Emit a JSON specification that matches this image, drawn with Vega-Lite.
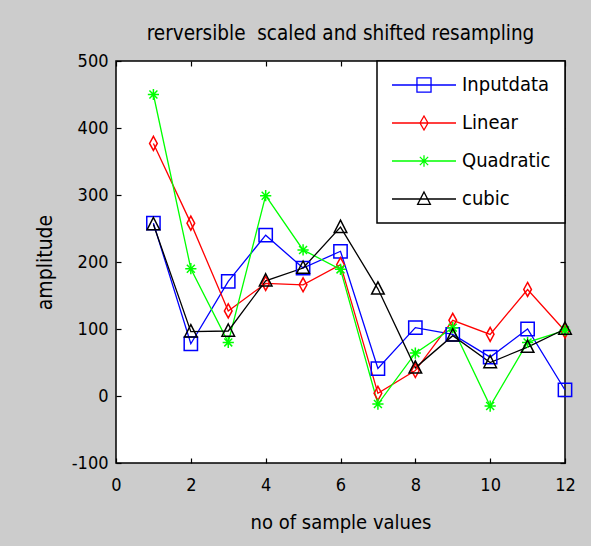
{
  "$schema": "https://vega.github.io/schema/vega-lite/v6.json",
  "width": 449,
  "height": 402,
  "autosize": {"type": "none"},
  "padding": {"left": 116, "top": 61, "right": 26, "bottom": 83},
  "background": "#cccccc",
  "title": {
    "text": "rerversible\u00a0 scaled and shifted resampling",
    "font": "DejaVu Sans Condensed, Liberation Sans Narrow, sans-serif",
    "fontSize": 20.5,
    "fontWeight": "normal",
    "color": "#000000",
    "anchor": "middle",
    "offset": 8
  },
  "data": {
    "values": [
      {"x": 1, "series": "Inputdata", "y": 258},
      {"x": 2, "series": "Inputdata", "y": 78},
      {"x": 3, "series": "Inputdata", "y": 171},
      {"x": 4, "series": "Inputdata", "y": 240},
      {"x": 5, "series": "Inputdata", "y": 191},
      {"x": 6, "series": "Inputdata", "y": 216},
      {"x": 7, "series": "Inputdata", "y": 41},
      {"x": 8, "series": "Inputdata", "y": 102},
      {"x": 9, "series": "Inputdata", "y": 92},
      {"x": 10, "series": "Inputdata", "y": 58},
      {"x": 11, "series": "Inputdata", "y": 100},
      {"x": 12, "series": "Inputdata", "y": 9},
      {"x": 1, "series": "Linear", "y": 377},
      {"x": 2, "series": "Linear", "y": 258},
      {"x": 3, "series": "Linear", "y": 127},
      {"x": 4, "series": "Linear", "y": 168},
      {"x": 5, "series": "Linear", "y": 166},
      {"x": 6, "series": "Linear", "y": 196},
      {"x": 7, "series": "Linear", "y": 4},
      {"x": 8, "series": "Linear", "y": 38},
      {"x": 9, "series": "Linear", "y": 113},
      {"x": 10, "series": "Linear", "y": 92},
      {"x": 11, "series": "Linear", "y": 159},
      {"x": 12, "series": "Linear", "y": 97},
      {"x": 1, "series": "Quadratic", "y": 450},
      {"x": 2, "series": "Quadratic", "y": 190},
      {"x": 3, "series": "Quadratic", "y": 80},
      {"x": 4, "series": "Quadratic", "y": 299},
      {"x": 5, "series": "Quadratic", "y": 218},
      {"x": 6, "series": "Quadratic", "y": 189},
      {"x": 7, "series": "Quadratic", "y": -12},
      {"x": 8, "series": "Quadratic", "y": 64},
      {"x": 9, "series": "Quadratic", "y": 102},
      {"x": 10, "series": "Quadratic", "y": -15},
      {"x": 11, "series": "Quadratic", "y": 80},
      {"x": 12, "series": "Quadratic", "y": 98},
      {"x": 1, "series": "cubic", "y": 256},
      {"x": 2, "series": "cubic", "y": 96},
      {"x": 3, "series": "cubic", "y": 97},
      {"x": 4, "series": "cubic", "y": 172},
      {"x": 5, "series": "cubic", "y": 191},
      {"x": 6, "series": "cubic", "y": 252},
      {"x": 7, "series": "cubic", "y": 160},
      {"x": 8, "series": "cubic", "y": 42},
      {"x": 9, "series": "cubic", "y": 90},
      {"x": 10, "series": "cubic", "y": 50},
      {"x": 11, "series": "cubic", "y": 73},
      {"x": 12, "series": "cubic", "y": 100}
    ]
  },
  "layer": [
    {
      "mark": {"type": "line", "strokeWidth": 1.3},
      "encoding": {
        "x": {
          "field": "x", "type": "quantitative",
          "scale": {"domain": [0, 12], "nice": false, "zero": false},
          "axis": {"values": [0, 2, 4, 6, 8, 10, 12], "tickSize": -5, "labelPadding": 18, "title": "no of sample values", "titlePadding": 18}
        },
        "y": {
          "field": "y", "type": "quantitative",
          "scale": {"domain": [-100, 500], "nice": false, "zero": false},
          "axis": {"values": [-100, 0, 100, 200, 300, 400, 500], "tickSize": -5, "labelPadding": 13, "labelExpr": "'' + datum.value", "title": "amplitude", "titlePadding": 16, "titleFontSize": 21}
        },
        "color": {
          "field": "series", "type": "nominal",
          "scale": {"domain": ["Inputdata", "Linear", "Quadratic", "cubic"], "range": ["#0000ff", "#ff0000", "#00ff00", "#000000"]},
          "legend": null
        }
      }
    },
    {
      "mark": {"type": "point", "filled": false, "size": 196, "strokeWidth": 1.5, "opacity": 1},
      "encoding": {
        "x": {"field": "x", "type": "quantitative", "axis": {"orient": "top", "values": [0, 2, 4, 6, 8, 10, 12], "labels": false, "title": null, "tickSize": -5}},
        "y": {"field": "y", "type": "quantitative", "axis": {"orient": "right", "values": [-100, 0, 100, 200, 300, 400, 500], "labels": false, "title": null, "tickSize": -5}},
        "color": {
          "field": "series", "type": "nominal",
          "scale": {"domain": ["Inputdata", "Linear", "Quadratic", "cubic"], "range": ["#0000ff", "#ff0000", "#00ff00", "#000000"]},
          "legend": null
        },
        "shape": {
          "field": "series", "type": "nominal",
          "scale": {
            "domain": ["Inputdata", "Linear", "Quadratic", "cubic"],
            "range": [
              "M-0.95,-0.95H0.95V0.95H-0.95Z",
              "M0,-1L0.55,0L0,1L-0.55,0Z",
              "M-0.8,0H0.8M0,-0.8V0.8M-0.57,-0.57L0.57,0.57M-0.57,0.57L0.57,-0.57",
              "M0,-1L0.9,0.75H-0.9Z"
            ]
          },
          "legend": null
        }
      }
    },
    {
      "mark": {"type": "point", "filled": false, "opacity": 0},
      "encoding": {
        "x": {"field": "x", "type": "quantitative", "axis": null},
        "y": {"field": "y", "type": "quantitative", "axis": null},
        "color": {
          "field": "series", "type": "nominal",
          "scale": {"domain": ["Inputdata", "Linear", "Quadratic", "cubic"], "range": ["#0000ff", "#ff0000", "#00ff00", "#000000"]},
          "legend": {"title": null}
        },
        "shape": {
          "field": "series", "type": "nominal",
          "scale": {
            "domain": ["Inputdata", "Linear", "Quadratic", "cubic"],
            "range": [
              "M-1,0H1M-0.22,-0.22H0.22V0.22H-0.22Z",
              "M-1,0H1M0,-0.22L0.125,0L0,0.22L-0.125,0Z",
              "M-1,0H1M0,-0.18V0.18M-0.13,-0.13L0.13,0.13M-0.13,0.13L0.13,-0.13",
              "M-1,0H1M0,-0.22L0.2,0.17H-0.2Z"
            ]
          },
          "legend": {"title": null}
        }
      }
    }
  ],
  "resolve": {
    "scale": {"shape": "independent", "color": "independent"},
    "axis": {"x": "independent", "y": "independent"}
  },
  "config": {
    "view": {"fill": "#ffffff", "stroke": "#000000", "strokeWidth": 1.5},
    "axis": {
      "labelFont": "DejaVu Sans Condensed, Liberation Sans Narrow, sans-serif",
      "labelFontSize": 18,
      "labelColor": "#000000",
      "titleFont": "DejaVu Sans Condensed, Liberation Sans Narrow, sans-serif",
      "titleFontSize": 20,
      "titleFontWeight": "normal",
      "titleColor": "#000000",
      "domain": false,
      "tickColor": "#000000",
      "tickWidth": 1.2,
      "grid": false,
      "labelFlush": false,
      "labelOverlap": false
    },
    "legend": {
      "orient": "top-right",
      "offset": 0,
      "padding": 14,
      "strokeColor": "#000000",
      "strokeWidth": 1.5,
      "fillColor": "#ffffff",
      "symbolSize": 4096,
      "symbolStrokeWidth": 1.3,
      "symbolOpacity": 1,
      "clipHeight": 20,
      "rowPadding": 18,
      "labelOffset": 5,
      "symbolOffset": 0,
      "labelFont": "DejaVu Sans Condensed, Liberation Sans Narrow, sans-serif",
      "labelFontSize": 20,
      "labelColor": "#000000"
    }
  }
}
